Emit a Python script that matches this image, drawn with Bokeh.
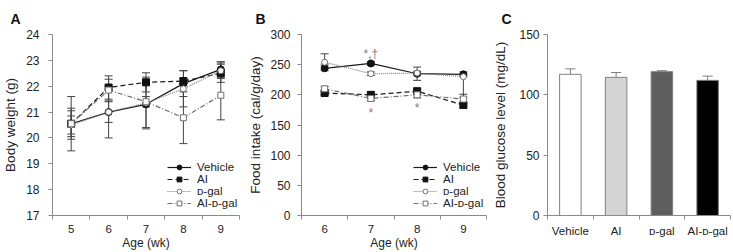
from bokeh.plotting import figure
from bokeh.layouts import row
from bokeh.models import Range1d, FixedTicker, Whisker, TeeHead, ColumnDataSource, Legend, LegendItem
from bokeh.embed import file_html
from bokeh.resources import INLINE
from bokeh.core.properties import value

# ---------------- data ----------------
series_names = ["Vehicle", "AI", "\u1d05-gal", "AI-\u1d05-gal"]

ages_a = [5, 6, 7, 8, 9]
bw_vehicle = [20.55, 21.0, 21.3, 22.1, 22.65]
bw_ai = [20.55, 21.95, 22.15, 22.2, 22.5]
bw_dgal = [20.5, 21.0, 21.35, 21.9, 22.6]
bw_aidgal = [20.55, 21.85, 21.4, 20.78, 21.65]
bw_vehicle_err = [0.6, 1.0, 0.9, 0.5, 0.3]
bw_ai_err = [0.5, 0.45, 0.37, 0.1, 0.35]
bw_dgal_err = [0.35, 0.4, 1.0, 0.7, 0.3]
bw_aidgal_err = [1.05, 0.42, 0.2, 1.0, 0.95]
bw_yticks = [17, 18, 19, 20, 21, 22, 23, 24]

ages_b = [6, 7, 8, 9]
fi_vehicle = [244, 252, 235, 234]
fi_ai = [203, 200, 206, 183]
fi_dgal = [254, 235, 236, 230]
fi_aidgal = [210, 194, 200, 193]
fi_vehicle_err = [4, 3, 11, 4]
fi_ai_err = [3, 4, 5, 4]
fi_dgal_err_lo = [3, 3, 3, 34]
fi_dgal_err_hi = [14, 3, 3, 3]
fi_aidgal_err = [4, 4, 5, 8]
fi_yticks = [0, 50, 100, 150, 200, 250, 300]
fi_ann_x = [7, 7, 8]
fi_ann_y = [268, 170, 179]
fi_ann_text = ["*,\u2020", "*", "*"]

groups = ["Vehicle", "AI", "\u1d05-gal", "AI-\u1d05-gal"]
glucose = [117, 114.5, 119.2, 112]
glucose_err = [4.5, 4.0, 0.8, 3.5]
gl_yticks = [0, 50, 100, 150]

# ---------------- style ----------------
FONT = "Liberation Sans"
AXIS_COL = "#8a8a8a"
TXT = "#222222"
ERR_COL = "#444444"
line_cols = ["#1a1a1a", "#1a1a1a", "#808080", "#707070"]
dashes = ["solid", "5 3", "1 1", "5 2 1 2"]
markers = ["circle", "square", "circle", "square"]
m_fill = ["#111111", "#111111", "#ffffff", "#ffffff"]
m_line = ["#111111", "#111111", "#707070", "#707070"]
m_size = [7, 7, 6, 6]
bar_fill = ["#ffffff", "#d4d4d4", "#5e5e5e", "#000000"]


def base_fig(width, left, right, letter, letter_offset):
    p = figure(width=width, height=252, output_backend="svg", toolbar_location=None,
               min_border_left=left, min_border_right=right, min_border_top=34,
               min_border_bottom=37, title=letter)
    p.xgrid.visible = False
    p.ygrid.visible = False
    p.outline_line_color = None
    p.background_fill_color = "white"
    p.title.text_font = FONT
    p.title.text_font_size = "14px"
    p.title.text_font_style = "bold"
    p.title.text_color = "#111111"
    p.title.align = "left"
    p.title.offset = letter_offset
    p.title.standoff = 16
    return p


def style_axes(p, ylabel, yticks, ystand, ylab_stand, xlabel, xfs="11.5px"):
    ya = p.yaxis[0]
    ya.ticker = FixedTicker(ticks=yticks)
    ya.axis_line_color = AXIS_COL
    ya.major_tick_line_color = AXIS_COL
    ya.major_tick_out = 4
    ya.major_tick_in = 0
    ya.minor_tick_line_color = None
    ya.major_label_text_font = FONT
    ya.major_label_text_font_size = "12px"
    ya.major_label_text_color = TXT
    ya.major_label_standoff = ystand
    ya.axis_label = ylabel
    ya.axis_label_text_font = FONT
    ya.axis_label_text_font_size = "13.5px"
    ya.axis_label_text_font_style = "normal"
    ya.axis_label_text_color = TXT
    ya.axis_label_standoff = ylab_stand
    xa = p.xaxis[0]
    xa.axis_line_color = AXIS_COL
    xa.major_tick_out = 0
    xa.major_tick_in = 0
    xa.minor_tick_out = 4
    xa.minor_tick_in = 0
    xa.minor_tick_line_color = AXIS_COL
    xa.major_label_text_font = FONT
    xa.major_label_text_font_size = xfs
    xa.major_label_text_color = TXT
    xa.major_label_standoff = 5
    xa.axis_label = xlabel
    xa.axis_label_text_font = FONT
    xa.axis_label_text_font_size = "12px"
    xa.axis_label_text_font_style = "normal"
    xa.axis_label_text_color = TXT
    xa.axis_label_standoff = 0


def line_panel(p, xs, ys_list, lo_list, hi_list, legend_x):
    items = []
    for i, ys in enumerate(ys_list):
        lo = [y - e for y, e in zip(ys, lo_list[i])]
        hi = [y + e for y, e in zip(ys, hi_list[i])]
        src = ColumnDataSource(dict(x=xs, y=ys, lo=lo, hi=hi))
        w = Whisker(base="x", lower="lo", upper="hi", source=src, dimension="height",
                    line_color=ERR_COL, line_width=1,
                    lower_head=TeeHead(size=8, line_color=ERR_COL, line_width=1),
                    upper_head=TeeHead(size=8, line_color=ERR_COL, line_width=1))
        p.add_layout(w)
        lr = p.line("x", "y", source=src, line_color=line_cols[i], line_dash=dashes[i], line_width=1.2)
        sr = p.scatter("x", "y", source=src, marker=markers[i], size=m_size[i],
                       fill_color=m_fill[i], line_color=m_line[i], line_width=1)
        items.append(LegendItem(label=series_names[i], renderers=[lr, sr]))
    leg = Legend(items=items, location=(legend_x, 6), border_line_color=None,
                 background_fill_alpha=0, label_text_font=FONT, label_text_font_size="11.5px",
                 label_text_color=TXT, glyph_width=24, glyph_height=12, label_height=12,
                 spacing=0, padding=0, margin=0, label_standoff=6)
    p.add_layout(leg)


# ---------------- Panel A ----------------
pa = base_fig(245, 49, 6, "A", -42)
pa.x_range = Range1d(ages_a[0] - 0.5, ages_a[-1] + 0.5)
pa.y_range = Range1d(bw_yticks[0], bw_yticks[-1])
style_axes(pa, "Body weight (g)", bw_yticks, 9, 5, "Age (wk)")
pa.xaxis[0].ticker = FixedTicker(ticks=ages_a, minor_ticks=[a - 0.5 for a in ages_a] + [ages_a[-1] + 0.5])
line_panel(pa, ages_a, [bw_vehicle, bw_ai, bw_dgal, bw_aidgal],
           [bw_vehicle_err, bw_ai_err, bw_dgal_err, bw_aidgal_err],
           [bw_vehicle_err, bw_ai_err, bw_dgal_err, bw_aidgal_err], 115)

# ---------------- Panel B ----------------
pb = base_fig(245, 53, 4, "B", -46)
pb.x_range = Range1d(ages_b[0] - 0.5, ages_b[-1] + 0.5)
pb.y_range = Range1d(fi_yticks[0], fi_yticks[-1])
style_axes(pb, "Food intake (cal/g/day)", fi_yticks, 7, 4, "Age (wk)")
pb.xaxis[0].ticker = FixedTicker(ticks=ages_b, minor_ticks=[a - 0.5 for a in ages_b] + [ages_b[-1] + 0.5])
line_panel(pb, ages_b, [fi_vehicle, fi_ai, fi_dgal, fi_aidgal],
           [fi_vehicle_err, fi_ai_err, fi_dgal_err_lo, fi_aidgal_err],
           [fi_vehicle_err, fi_ai_err, fi_dgal_err_hi, fi_aidgal_err], 112)
pb.text(x=fi_ann_x, y=fi_ann_y, text=fi_ann_text, text_align="center", text_baseline="middle",
        text_font=value(FONT), text_font_size="12px", text_color="#808080")

# ---------------- Panel C ----------------
pc = base_fig(243, 53, 3, "C", -46)
xpos = list(range(1, len(groups) + 1))
pc.x_range = Range1d(0.5, len(groups) + 0.5)
pc.y_range = Range1d(gl_yticks[0], gl_yticks[-1])
style_axes(pc, "Blood glucose level (mg/dL)", gl_yticks, 4, 8, "", xfs="11.5px")
pc.xaxis[0].ticker = FixedTicker(ticks=xpos, minor_ticks=[x - 0.5 for x in xpos] + [xpos[-1] + 0.5])
pc.xaxis[0].major_label_overrides = {x: g for x, g in zip(xpos, groups)}
csrc = ColumnDataSource(dict(x=xpos, top=glucose, hi=[g + e for g, e in zip(glucose, glucose_err)],
                             color=bar_fill))
pc.add_layout(Whisker(base="x", lower="top", upper="hi", source=csrc, dimension="height",
                      line_color="#7f7f7f", line_width=1, lower_head=None,
                      upper_head=TeeHead(size=10, line_color="#7f7f7f", line_width=1)))
pc.vbar(x="x", top="top", bottom=0, width=0.47, source=csrc, fill_color="color",
        line_color="#7f7f7f", line_width=1)

layout = row(pa, pb, pc, spacing=0)
open("out.html", "w").write(file_html(layout, INLINE))
